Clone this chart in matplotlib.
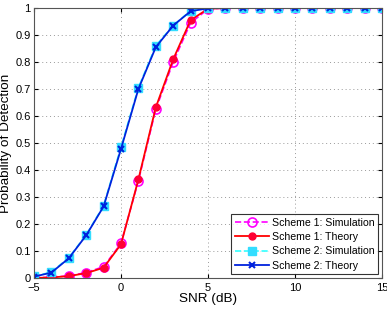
import matplotlib
matplotlib.use("Agg")
import matplotlib.pyplot as plt
from matplotlib.ticker import FixedLocator

plt.rcParams['font.family'] = ['Liberation Sans', 'DejaVu Sans']

snr = list(range(-5, 16))
s1_theory = [0.0, 0.002, 0.007, 0.018, 0.038, 0.125, 0.365, 0.632, 0.81, 0.955, 0.997,
             1, 1, 1, 1, 1, 1, 1, 1, 1, 1]
s1_sim = [0.001, 0.003, 0.008, 0.02, 0.042, 0.128, 0.36, 0.625, 0.80, 0.945, 0.996,
          1, 1, 1, 1, 1, 1, 1, 1, 1, 1]
s2_theory = [0.005, 0.02, 0.073, 0.158, 0.265, 0.478, 0.70, 0.855, 0.935, 0.988, 0.999,
             1, 1, 1, 1, 1, 1, 1, 1, 1, 1]
s2_sim = [0.006, 0.022, 0.075, 0.16, 0.268, 0.485, 0.705, 0.86, 0.935, 0.99, 0.999,
          1, 1, 1, 1, 1, 1, 1, 1, 1, 1]
xticks = [-5, 0, 5, 10, 15]
yticks = [0, 0.1, 0.2, 0.3, 0.4, 0.5, 0.6, 0.7, 0.8, 0.9, 1]
ytick_labels = ['0', '0.1', '0.2', '0.3', '0.4', '0.5', '0.6', '0.7', '0.8', '0.9', '1']

fig = plt.figure(figsize=(3.87, 3.09), dpi=100)
ax = fig.add_axes([34/387, 1 - 278/309, (382-34)/387, (278-8)/309])

ax.plot(snr, s1_sim, linestyle='--', color='#ff00ff', marker='o', markersize=6.5,
        markerfacecolor='none', markeredgecolor='#ff00ff', markeredgewidth=1.2,
        linewidth=1.2, label='Scheme 1: Simulation')
ax.plot(snr, s1_theory, linestyle='-', color='#ff0000', marker='o', markersize=5,
        markerfacecolor='#ff0033', markeredgecolor='#ff0033',
        linewidth=1.3, label='Scheme 1: Theory')
ax.plot(snr, s2_sim, linestyle='--', color='#33ffff', marker='s', markersize=6,
        markerfacecolor='#33ddff', markeredgecolor='#33ddff',
        linewidth=1.2, label='Scheme 2: Simulation')
ax.plot(snr, s2_theory, linestyle='-', color='#0022dd', marker='x', markersize=5,
        markeredgewidth=1.5, linewidth=1.3, label='Scheme 2: Theory')

ax.set_xlim(-5, 15)
ax.set_ylim(0, 1)
ax.xaxis.set_major_locator(FixedLocator(xticks))
ax.yaxis.set_major_locator(FixedLocator(yticks))
ax.set_yticklabels(ytick_labels)
ax.grid(True, linestyle=(0, (1, 3)), color='#999999', linewidth=0.7)
ax.tick_params(direction='in', top=True, right=True, labelsize=8, length=3)
ax.tick_params(axis='x', pad=3.5)
ax.tick_params(axis='y', pad=2.5)
for s in ax.spines.values():
    s.set_color('#555555')
    s.set_linewidth(0.8)

ax.set_xlabel('SNR (dB)', fontsize=9.7, labelpad=0)
ax.set_ylabel('Probability of Detection', fontsize=9.7, labelpad=2)

leg = ax.legend(loc='lower right', fontsize=7.6, frameon=True, fancybox=False,
                edgecolor='black', handlelength=3.2, borderpad=0.35, labelspacing=0.4,
                handletextpad=0.3, borderaxespad=0.35)
leg.get_frame().set_linewidth(0.8)

fig.savefig('out.png', dpi=100)
